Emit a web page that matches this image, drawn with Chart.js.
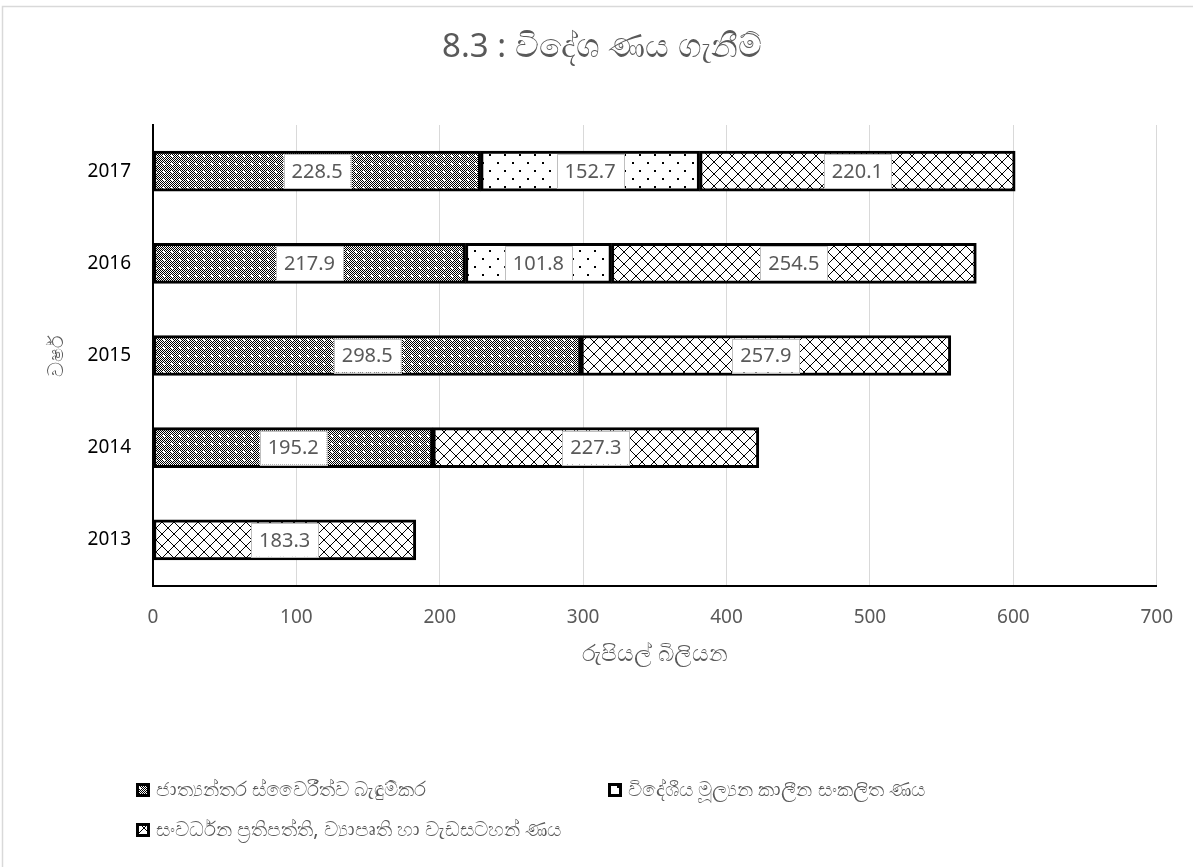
<!DOCTYPE html>
<html>
<head>
<meta charset="utf-8">
<script src="https://cdn.jsdelivr.net/npm/chart.js@4.4.0/dist/chart.umd.min.js"></script>
<style>
  html, body { margin: 0; padding: 0; background: #fff; }
  #wrap { width: 1193px; height: 867px; position: relative; }
</style>
</head>
<body>
<div id="wrap"><canvas id="loanChart" width="1193" height="867"></canvas></div>
<script>
// data
const years = ['2013', '2014', '2015', '2016', '2017'];
const sovereignBonds = [0, 195.2, 298.5, 217.9, 228.5];
const termLoans = [0, 0, 0, 101.8, 152.7];
const projectLoans = [183.3, 227.3, 257.9, 254.5, 220.1];
const seriesNames = [
  'ජාත්‍යන්තර ස්වෛරීත්ව බැඳුම්කර',
  'විදේශීය මූල්‍යන කාලීන සංකලිත ණය',
  'සංවර්ධන ප්‍රතිපත්ති, ව්‍යාපෘති හා වැඩසටහන් ණය'
];
const chartTitle = '8.3 : විදේශ ණය ගැනීම්';
const xTitle = 'රුපියල් බිලියන';
const yTitle = 'වර්ෂ';

const FONT = "'Noto Sans', 'Open Sans', sans-serif";
const GREY = '#595959';

// patterns
function makePattern(kind) {
  const c = document.createElement('canvas');
  const p = c.getContext('2d');
  if (kind === 'checker') {
    c.width = 8; c.height = 8;
    p.fillStyle = '#fff'; p.fillRect(0, 0, 8, 8);
    p.fillStyle = '#000';
    for (let y = 0; y < 8; y++) {
      for (let x = 0; x < 8; x++) {
        if ((x + y) % 2 === 0) p.fillRect(x, y, 1, 1);
      }
    }
    p.fillStyle = '#fff';
    p.fillRect(3, 3, 2, 2);
  } else if (kind === 'dots') {
    c.width = 15; c.height = 16;
    p.fillStyle = '#fff'; p.fillRect(0, 0, 15, 16);
    p.fillStyle = '#000';
    p.fillRect(2, 2, 2, 2);
    p.fillRect(9, 10, 2, 2);
  } else {
    c.width = 12; c.height = 12;
    p.fillStyle = '#fff'; p.fillRect(0, 0, 12, 12);
    p.strokeStyle = '#000'; p.lineWidth = 1;
    p.beginPath();
    p.moveTo(0, 0); p.lineTo(12, 12);
    p.moveTo(12, 0); p.lineTo(0, 12);
    p.stroke();
  }
  const ctx = document.getElementById('loanChart').getContext('2d');
  return ctx.createPattern(c, 'repeat');
}
const patterns = [makePattern('checker'), makePattern('dots'), makePattern('cross')];

// white value boxes in the middle of each segment
const valueBoxes = {
  id: 'valueBoxes',
  afterDatasetsDraw(chart) {
    const ctx = chart.ctx;
    ctx.save();
    ctx.font = '20px ' + FONT;
    ctx.textAlign = 'center';
    ctx.textBaseline = 'middle';
    chart.data.datasets.forEach((ds, i) => {
      chart.getDatasetMeta(i).data.forEach((bar, j) => {
        const v = ds.data[j];
        if (!v) return;
        const cx = (bar.x + bar.base) / 2;
        const txt = v.toFixed(1);
        const w = ctx.measureText(txt).width + 16;
        const h = 34;
        ctx.fillStyle = '#fff';
        ctx.fillRect(cx - w / 2, bar.y - h / 2, w, h);
        ctx.strokeStyle = '#bfbfbf';
        ctx.lineWidth = 1;
        ctx.strokeRect(Math.round(cx - w / 2) + 0.5, Math.round(bar.y - h / 2) + 0.5, Math.round(w), h);
        ctx.fillStyle = GREY;
        ctx.fillText(txt, cx, bar.y + 1);
      });
    });
    ctx.restore();
  }
};

// frame, title and legend
const frameAndLegend = {
  id: 'frameAndLegend',
  beforeDraw(chart) {
    const ctx = chart.ctx;
    ctx.save();
    ctx.fillStyle = '#fff';
    ctx.fillRect(0, 0, chart.width, chart.height);
    ctx.strokeStyle = '#d9d9d9';
    ctx.lineWidth = 1.5;
    ctx.strokeRect(2.5, 6.5, chart.width + 5, chart.height + 5);
    ctx.restore();
  },
  afterDraw(chart) {
    const ctx = chart.ctx;
    ctx.save();
    ctx.fillStyle = GREY;
    ctx.textBaseline = 'middle';
    ctx.textAlign = 'center';
    ctx.font = '33px ' + FONT;
    ctx.fillText(chartTitle, 602, 48);

    const spots = [[136, 790], [608, 790], [136, 830]];
    ctx.font = '20px ' + FONT;
    ctx.textAlign = 'left';
    spots.forEach((s, i) => {
      const [x, y] = s;
      ctx.fillStyle = '#000';
      ctx.fillRect(x, y - 7, 14, 14);
      ctx.fillStyle = patterns[i];
      ctx.fillRect(x + 3, y - 4, 8, 8);
      ctx.fillStyle = GREY;
      ctx.fillText(seriesNames[i], x + 20, y);
    });
    ctx.restore();
  }
};

const datasets = [sovereignBonds, termLoans, projectLoans].map((vals, i) => ({
  label: seriesNames[i],
  data: vals,
  backgroundColor: patterns[i],
  borderColor: '#000',
  borderWidth: 3,
  borderSkipped: false,
  barThickness: 40
}));

new Chart(document.getElementById('loanChart'), {
  type: 'bar',
  data: { labels: years, datasets: datasets },
  options: {
    indexAxis: 'y',
    responsive: false,
    animation: false,
    layout: { padding: { top: 125, left: 44, right: 31, bottom: 195 } },
    plugins: {
      legend: { display: false },
      tooltip: { enabled: false }
    },
    scales: {
      x: {
        stacked: true,
        min: 0,
        max: 700,
        ticks: { stepSize: 100, color: GREY, font: { size: 19, family: FONT }, padding: 20 },
        grid: { color: '#d9d9d9', lineWidth: 1, drawTicks: false },
        border: { color: '#000', width: 2 },
        title: { display: true, text: xTitle, color: GREY, font: { size: 23, family: FONT }, padding: { top: 6 } },
        afterFit(s) { s.height = 867 - 195 - 586; }
      },
      y: {
        stacked: true,
        reverse: true,
        ticks: { color: '#000', font: { size: 19, family: FONT }, padding: 22 },
        grid: { display: false, drawTicks: false },
        border: { color: '#000', width: 2 },
        title: { display: true, text: yTitle, color: GREY, font: { size: 21, family: FONT }, padding: 0 },
        afterFit(s) { s.width = 153 - 44; }
      }
    }
  },
  plugins: [frameAndLegend, valueBoxes]
});
</script>
</body>
</html>
